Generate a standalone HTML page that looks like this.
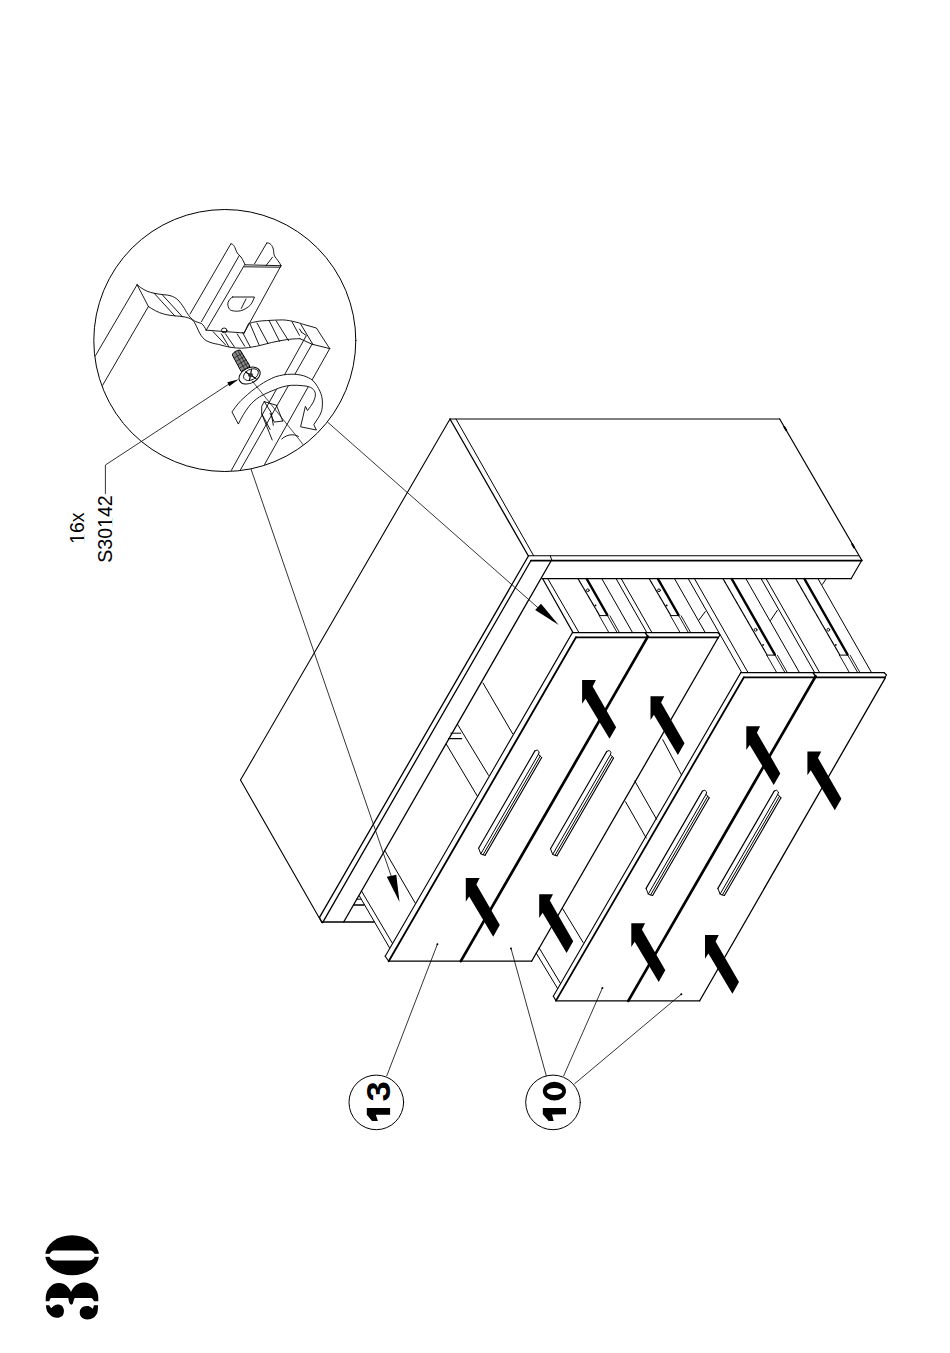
<!DOCTYPE html>
<html><head><meta charset="utf-8"><style>
html,body{margin:0;padding:0;background:#fff;width:950px;height:1353px;overflow:hidden}
svg{position:absolute;left:0;top:0}
.t{font-family:"Liberation Sans",sans-serif}
</style></head><body>
<svg width="950" height="1353" viewBox="0 0 950 1353">
<g stroke="#000" fill="none" stroke-linecap="round" stroke-linejoin="round">
<line x1="450" y1="419" x2="779.7" y2="419" stroke-width="1.2"/>
<line x1="779.7" y1="419" x2="861.8" y2="560.3" stroke-width="1.2"/>
<line x1="450" y1="419" x2="528.4" y2="556" stroke-width="1.3"/>
<line x1="456" y1="419" x2="533.5" y2="555.5" stroke-width="1.0"/>
<line x1="528.4" y1="555.7" x2="858.4" y2="555.7" stroke-width="1.1"/>
<line x1="531" y1="560.6" x2="861.8" y2="560.6" stroke-width="1.8"/>
<polyline points="861.8,560.3 851.1,578.7" stroke-width="1.2" fill="none"/>
<line x1="542" y1="578.7" x2="851.1" y2="578.7" stroke-width="1.3"/>
<line x1="550.3" y1="556" x2="552" y2="560.5" stroke-width="1.0"/>
<line x1="784.3" y1="426.9" x2="786.3" y2="430.3" stroke-width="1.9"/>
<line x1="852.1" y1="544" x2="854.1" y2="547.4" stroke-width="1.9"/>
<line x1="450" y1="419" x2="240.5" y2="780" stroke-width="1.1"/>
<line x1="240.5" y1="780" x2="321.6" y2="922" stroke-width="1.1"/>
<line x1="321.6" y1="922" x2="374.2" y2="922" stroke-width="1.3"/>
<line x1="528.4" y1="556" x2="319.5" y2="917.4" stroke-width="1.3"/>
<line x1="319.5" y1="917.4" x2="322.1" y2="922.6" stroke-width="1.2"/>
<line x1="531" y1="560.5" x2="322.6" y2="922.6" stroke-width="1.3"/>
<line x1="551" y1="561" x2="343.7" y2="922" stroke-width="1.3"/>
<line x1="542.7" y1="578.7" x2="573" y2="632.6" stroke-width="1.2"/>
<line x1="547.8" y1="578.7" x2="579" y2="632.6" stroke-width="1.0"/>
<line x1="586.8" y1="579" x2="607.3199999999999" y2="615" stroke-width="2.5"/>
<line x1="578.1999999999999" y1="579" x2="599.3199999999999" y2="615" stroke-width="1.2" stroke="#000" stroke-dasharray="1.2,0.6"/>
<line x1="599.3199999999999" y1="615.6" x2="607.3199999999999" y2="615.6" stroke-width="1.0"/>
<circle cx="587.8" cy="590.3" r="1.4" stroke-width="0.9"/>
<circle cx="595.5" cy="605.4" r="0.9" fill="#000" stroke="none"/>
<line x1="599.3199999999999" y1="615.8" x2="608.7819999999999" y2="632.4" stroke-width="0.9"/>
<line x1="607.6199999999999" y1="615.8" x2="617.0819999999999" y2="632.4" stroke-width="0.9"/>
<line x1="609.92" y1="615.8" x2="619.382" y2="632.4" stroke-width="0.9"/>
<line x1="658" y1="579" x2="678.52" y2="615" stroke-width="2.5"/>
<line x1="649.4" y1="579" x2="670.52" y2="615" stroke-width="1.2" stroke="#000" stroke-dasharray="1.2,0.6"/>
<line x1="670.52" y1="615.6" x2="678.52" y2="615.6" stroke-width="1.0"/>
<circle cx="659.0" cy="590.3" r="1.4" stroke-width="0.9"/>
<circle cx="666.7" cy="605.4" r="0.9" fill="#000" stroke="none"/>
<line x1="670.52" y1="615.8" x2="679.982" y2="632.4" stroke-width="0.9"/>
<line x1="678.8199999999999" y1="615.8" x2="688.2819999999999" y2="632.4" stroke-width="0.9"/>
<line x1="681.12" y1="615.8" x2="690.582" y2="632.4" stroke-width="0.9"/>
<line x1="731.8" y1="579" x2="774.8349999999999" y2="654.5" stroke-width="2.5"/>
<line x1="723.1999999999999" y1="579" x2="766.8349999999999" y2="654.5" stroke-width="1.2" stroke="#000" stroke-dasharray="1.2,0.6"/>
<line x1="766.8349999999999" y1="655.1" x2="774.8349999999999" y2="655.1" stroke-width="1.0"/>
<circle cx="755.6" cy="629.8" r="1.4" stroke-width="0.9"/>
<circle cx="763.1" cy="644.9" r="0.9" fill="#000" stroke="none"/>
<line x1="766.8349999999999" y1="655.3" x2="776.3539999999999" y2="672" stroke-width="0.9"/>
<line x1="775.1349999999999" y1="655.3" x2="784.6539999999999" y2="672" stroke-width="0.9"/>
<line x1="777.435" y1="655.3" x2="786.954" y2="672" stroke-width="0.9"/>
<line x1="804.5" y1="579" x2="847.535" y2="654.5" stroke-width="2.5"/>
<line x1="795.9" y1="579" x2="839.535" y2="654.5" stroke-width="1.2" stroke="#000" stroke-dasharray="1.2,0.6"/>
<line x1="839.535" y1="655.1" x2="847.535" y2="655.1" stroke-width="1.0"/>
<circle cx="828.3" cy="629.8" r="1.4" stroke-width="0.9"/>
<circle cx="835.8" cy="644.9" r="0.9" fill="#000" stroke="none"/>
<line x1="839.535" y1="655.3" x2="849.054" y2="672" stroke-width="0.9"/>
<line x1="847.8349999999999" y1="655.3" x2="857.3539999999999" y2="672" stroke-width="0.9"/>
<line x1="850.135" y1="655.3" x2="859.654" y2="672" stroke-width="0.9"/>
<line x1="602" y1="579" x2="632.438" y2="632.4" stroke-width="1.0"/>
<line x1="616.3" y1="579" x2="646.7379999999999" y2="632.4" stroke-width="1.0"/>
<line x1="621.4" y1="579" x2="651.838" y2="632.4" stroke-width="1.0"/>
<line x1="674.7" y1="579" x2="705.138" y2="632.4" stroke-width="1.0"/>
<line x1="688.4" y1="579" x2="741.41" y2="672" stroke-width="1.0"/>
<line x1="694.7" y1="579" x2="747.71" y2="672" stroke-width="1.0"/>
<line x1="746.1" y1="579" x2="799.11" y2="672" stroke-width="1.0"/>
<line x1="761.3" y1="579" x2="814.31" y2="672" stroke-width="1.0"/>
<line x1="766.3" y1="579" x2="819.31" y2="672" stroke-width="1.0"/>
<line x1="818.2" y1="579" x2="871.21" y2="672" stroke-width="1.0"/>
<line x1="770.5" y1="620.5" x2="777.3" y2="610.4" stroke-width="1.0"/>
<line x1="699" y1="620" x2="705.3" y2="611.6" stroke-width="1.0"/>
<line x1="822.5" y1="584.3" x2="826.3" y2="578.6" stroke-width="1.0"/>
<line x1="572.4" y1="632.6" x2="718" y2="632.6" stroke-width="1.1"/>
<line x1="576" y1="637.3" x2="718" y2="637.3" stroke-width="1.8"/>
<polyline points="718,632.6 720,635 718,638" stroke-width="1.2" fill="none"/>
<line x1="572.4" y1="632.6" x2="385.2" y2="956.2" stroke-width="1.1"/>
<line x1="576" y1="637.3" x2="388.7" y2="961.2" stroke-width="1.8"/>
<polyline points="385.2,956.2 388.7,961.2" stroke-width="1.1" fill="none"/>
<line x1="388.7" y1="961.2" x2="531.6" y2="961.2" stroke-width="1.3"/>
<line x1="647.8" y1="636.6" x2="460.8" y2="961.2" stroke-width="2.7"/>
<line x1="645.2" y1="632.6" x2="647.8" y2="636.6" stroke-width="1.5"/>
<line x1="718" y1="638" x2="531.6" y2="961.2" stroke-width="1.3"/>
<line x1="740.8" y1="672.6" x2="884.2" y2="672.6" stroke-width="1.1"/>
<line x1="743.9" y1="677.3" x2="884.5" y2="677.3" stroke-width="1.8"/>
<polyline points="884.2,672.6 886.5,675 884.5,678" stroke-width="1.2" fill="none"/>
<line x1="740.8" y1="672.6" x2="553.3" y2="996.2" stroke-width="1.1"/>
<line x1="743.9" y1="677.3" x2="556" y2="1000.6" stroke-width="1.8"/>
<polyline points="553.3,996.2 556,1000.6" stroke-width="1.1" fill="none"/>
<line x1="556" y1="1000.8" x2="699.7" y2="1000.8" stroke-width="1.3"/>
<line x1="815.6" y1="676.3" x2="628.3" y2="1000.8" stroke-width="2.7"/>
<line x1="813" y1="672.6" x2="815.6" y2="676.3" stroke-width="1.5"/>
<line x1="885.3" y1="677.9" x2="699.7" y2="1000.8" stroke-width="1.3"/>
<line x1="483" y1="683" x2="512.6" y2="733.7" stroke-width="1.0"/>
<line x1="457.5" y1="724.3" x2="488.5" y2="775.3" stroke-width="1.0"/>
<line x1="446.4" y1="744.3" x2="477.5" y2="796.4" stroke-width="1.0"/>
<line x1="384.7" y1="850.5" x2="415.3" y2="903.2" stroke-width="1.0"/>
<line x1="361.5" y1="891" x2="392.5" y2="943.4" stroke-width="1.0"/>
<line x1="359.3" y1="895.8" x2="389.5" y2="947.8" stroke-width="1.0"/>
<line x1="450.8" y1="733.2" x2="460.8" y2="733.2" stroke-width="1.0"/>
<line x1="448.6" y1="738.7" x2="461.5" y2="738.7" stroke-width="1.3"/>
<line x1="356.4" y1="899.2" x2="360.8" y2="899.2" stroke-width="1.0"/>
<line x1="353.8" y1="905" x2="364.1" y2="905" stroke-width="1.3"/>
<line x1="662.8" y1="739.7" x2="681.4" y2="774.8" stroke-width="1.0"/>
<line x1="634.8" y1="781" x2="656.6" y2="819.3" stroke-width="1.0"/>
<line x1="625.5" y1="801.7" x2="646.2" y2="838" stroke-width="1.0"/>
<line x1="562.4" y1="908.3" x2="583.1" y2="942.4" stroke-width="1.0"/>
<line x1="536.3" y1="953.2" x2="557.7" y2="988.7" stroke-width="1.0"/>
<line x1="539.2" y1="948" x2="560.5" y2="983.5" stroke-width="1.0"/>
<line x1="534.9" y1="750.9" x2="478.6" y2="848.2" stroke-width="1.15"/>
<line x1="538.49" y1="754.2" x2="480.8" y2="853.9" stroke-width="1.0"/>
<line x1="540.19" y1="756.1" x2="483.08" y2="854.8" stroke-width="1.0"/>
<line x1="541.68" y1="757.5" x2="485.09" y2="855.3" stroke-width="1.15"/>
<polyline points="534.9,750.9 537.3,750.0 539.2,751.8 538.49,754.2 540.19,756.1 541.68,757.5" stroke-width="1.0" fill="none"/>
<polyline points="478.6,848.2 480.8,853.9 483.08,854.8 485.09,855.3" stroke-width="1.0" fill="none"/>
<line x1="606.8" y1="751.4" x2="550.5" y2="848.7" stroke-width="1.15"/>
<line x1="610.39" y1="754.7" x2="552.7" y2="854.4" stroke-width="1.0"/>
<line x1="612.09" y1="756.6" x2="554.98" y2="855.3" stroke-width="1.0"/>
<line x1="613.58" y1="758.0" x2="556.99" y2="855.8" stroke-width="1.15"/>
<polyline points="606.8,751.4 609.2,750.5 611.1,752.3 610.39,754.7 612.09,756.6 613.58,758.0" stroke-width="1.0" fill="none"/>
<polyline points="550.5,848.7 552.7,854.4 554.98,855.3 556.99,855.8" stroke-width="1.0" fill="none"/>
<line x1="702.4" y1="791.1" x2="646.1" y2="888.4" stroke-width="1.15"/>
<line x1="705.99" y1="794.4" x2="648.3" y2="894.1" stroke-width="1.0"/>
<line x1="707.69" y1="796.3" x2="650.58" y2="895.0" stroke-width="1.0"/>
<line x1="709.18" y1="797.7" x2="652.59" y2="895.5" stroke-width="1.15"/>
<polyline points="702.4,791.1 704.8,790.2 706.7,792.0 705.99,794.4 707.69,796.3 709.18,797.7" stroke-width="1.0" fill="none"/>
<polyline points="646.1,888.4 648.3,894.1 650.58,895.0 652.59,895.5" stroke-width="1.0" fill="none"/>
<line x1="774.2" y1="791.1" x2="717.9" y2="888.4" stroke-width="1.15"/>
<line x1="777.79" y1="794.4" x2="720.1" y2="894.1" stroke-width="1.0"/>
<line x1="779.49" y1="796.3" x2="722.38" y2="895.0" stroke-width="1.0"/>
<line x1="780.98" y1="797.7" x2="724.39" y2="895.5" stroke-width="1.15"/>
<polyline points="774.2,791.1 776.6,790.2 778.5,792.0 777.79,794.4 779.49,796.3 780.98,797.7" stroke-width="1.0" fill="none"/>
<polyline points="717.9,888.4 720.1,894.1 722.38,895.0 724.39,895.5" stroke-width="1.0" fill="none"/>
<polygon points="582.1,680.1 595.9,680.1 592.7,686.5 616.1,727.2 609.5,738.8 585.5,698.7 582.1,703.8" fill="#000" stroke="none"/>
<polygon points="650.5,696.2 664.3,696.2 661.1,702.6 684.5,743.3 677.9,754.9 653.9,714.8 650.5,719.9" fill="#000" stroke="none"/>
<polygon points="746.3,726.3 760.1,726.3 756.9,732.7 780.3,773.4 773.7,785.0 749.7,744.9 746.3,750.0" fill="#000" stroke="none"/>
<polygon points="807.4,751.6 821.2,751.6 818.0,758.0 841.4,798.7 834.8,810.3 810.8,770.2 807.4,775.3" fill="#000" stroke="none"/>
<polygon points="465.8,878 479.6,878 476.4,884.4 499.8,925.1 493.2,936.7 469.2,896.6 465.8,901.7" fill="#000" stroke="none"/>
<polygon points="539.2,894.2 553.0,894.2 549.8,900.6 573.2,941.3 566.6,952.9 542.6,912.8 539.2,917.9" fill="#000" stroke="none"/>
<polygon points="631.3,923.2 645.1,923.2 641.9,929.6 665.3,970.3 658.7,981.9 634.7,941.8 631.3,946.9" fill="#000" stroke="none"/>
<polygon points="705,935 718.8,935 715.6,941.4 739,982.1 732.4,993.7 708.4,953.6 705,958.7" fill="#000" stroke="none"/>
<line x1="328" y1="422.5" x2="553" y2="621" stroke-width="0.8"/>
<polygon points="535.2,610 541,603.7 558.7,625" fill="#000" stroke="none"/>
<line x1="251" y1="469" x2="396" y2="890" stroke-width="0.8"/>
<polygon points="386.8,876.8 396.3,874.7 399.5,902" fill="#000" stroke="none"/>
<line x1="437.4" y1="944.2" x2="386.8" y2="1075.8" stroke-width="0.8"/>
<line x1="511" y1="948.4" x2="546.3" y2="1075.8" stroke-width="0.8"/>
<line x1="602.4" y1="988" x2="563.7" y2="1075.8" stroke-width="0.8"/>
<line x1="681.3" y1="994.2" x2="574.7" y2="1083.7" stroke-width="0.8"/>
<circle cx="437.4" cy="944.2" r="1" fill="#000" stroke="none"/>
<circle cx="511" cy="948.4" r="1" fill="#000" stroke="none"/>
<circle cx="602.4" cy="988" r="1" fill="#000" stroke="none"/>
<circle cx="681.3" cy="994.2" r="1" fill="#000" stroke="none"/>
<circle cx="376.3" cy="1102.4" r="27.3" stroke-width="1"/>
<circle cx="553" cy="1102.4" r="27.3" stroke-width="1"/>
<circle cx="224.8" cy="340.5" r="131" stroke-width="1"/>
<polyline points="229,384 105.4,465 105.4,493.5" stroke-width="0.8" fill="none"/>
<polygon points="238.8,379.2 227.3,382.3 229.3,386.2" fill="#000" stroke="none"/>
<clipPath id="mc"><circle cx="224.8" cy="340.5" r="130.5"/></clipPath>
<g clip-path="url(#mc)">
<path d="M137.1,284.7 L80,382" stroke-width="0.9" fill="none"/>
<path d="M148.4,306.5 L90,407" stroke-width="0.9" fill="none"/>
<path d="M137.1,284.7 L148.4,306.5" stroke-width="0.9" fill="none"/>
<path d="M137.1,284.7 C142,289 146,291 150.3,292.3 C156,294 162,294.5 167.4,295.1 C171,295.6 174,296.8 176.8,298.9 C180,301.5 182,305 184.4,308.4 C186,311.5 187.5,314 189.2,316 C191,318.5 193.5,320.5 195.8,321.6 C198,322.6 200,322.8 201.5,323.5 C203.5,325 205,327.5 206.2,330.2" stroke-width="0.9" fill="none"/>
<path d="M148.4,306.5 C153,309.5 158,312.5 163.6,314 C168,315.2 172,315.6 176.8,316 C181,316.4 185,316.8 188.2,317.8 C191,318.8 192.5,320 193.9,321.6 C196,324.5 197.5,329 199.6,333 C201.5,336.5 203.5,339 206.2,340.6 C210,342.7 214,343.6 218.5,344.4 C222,345.2 226,346.6 229.9,347.2 C234,347.8 237.5,348.2 241.3,348.2 C246,348.1 251,347.2 256.4,346.3 C261.5,345.4 266.5,343.5 271.6,342.5 C276.5,341.5 281.5,340.3 286.7,339.6 C291,339 295,338.8 300,338.7" stroke-width="0.9" fill="none"/>
<path d="M154.1,293.2 L174.9,316" stroke-width="0.9" fill="none"/>
<path d="M162.6,295.1 L182.5,316.9" stroke-width="0.9" fill="none"/>
<path d="M230.8,243.9 L190.1,314" stroke-width="0.9" fill="none"/>
<path d="M239.4,255.3 L201.5,321.6" stroke-width="0.9" fill="none"/>
<path d="M230.8,243.9 C232.5,243.5 234,245 235.5,249 C236.5,252 238,254.5 239.4,255.3 C241.5,257 243.5,261 245,264.8" stroke-width="0.9" fill="none"/>
<path d="M245,264.8 L281,265.7 M244.1,266.8 L280.3,267.2" stroke-width="0.9" fill="none"/>
<path d="M281,265.7 L244.1,333" stroke-width="0.9" fill="none"/>
<path d="M244.1,265.7 L206.2,330.2" stroke-width="0.9" fill="none"/>
<path d="M206.2,330.2 L244.1,333" stroke-width="0.9" fill="none"/>
<path d="M266.8,243 L254.5,263.8" stroke-width="0.9" fill="none"/>
<path d="M266.8,243 C269,242.5 271.5,244 273,248 C274,251 273.5,254 274.5,256 C276.5,259 279.5,262 281,265.7" stroke-width="0.9" fill="none"/>
<path d="M272.5,257.2 L265.9,265.7" stroke-width="0.9" fill="none"/>
<path d="M232.7,297 L254.5,297 C253,301 251.5,304.5 248.8,306.5 C245,309.5 241,311.2 237.5,311.2 C233,311.2 229.8,310.5 229,308.4 C227.8,306 227.6,304.5 228,302.7 C228.6,300.5 230.5,298 232.7,297 Z" stroke-width="0.9" fill="none"/>
<path d="M246,298.9 L241.3,308.4" stroke-width="0.9" fill="none"/>
<ellipse cx="224.2" cy="330.4" rx="2.8" ry="2.4" stroke-width="0.9"/>
<path d="M221.4,333.9 L229,346.9 M225.5,333.9 L234.4,346.9" stroke-width="0.9" fill="none"/>
<path d="M244.1,333 L248.6,323.6 C254,321.8 260,320.8 266.3,320.6 C272,320.3 277,319.9 282.5,319.9 C287,320 291.5,321 295.8,322.1 C299,322.8 301,323.5 303.2,324.3 C308,325.6 312,326.8 316.4,328 L329.7,348.6" stroke-width="0.9" fill="none"/>
<path d="M300,338.7 L312,344.2 L329.7,348.6" stroke-width="0.9" fill="none"/>
<path d="M301.7,332.4 L299.5,329 M301.7,332.4 L306.1,335.4" stroke-width="0.9" fill="none"/>
<path d="M213.2,331.8 L225.5,344.8" stroke-width="0.9" fill="none"/>
<path d="M237.2,333.9 L244.7,346.2" stroke-width="0.9" fill="none"/>
<path d="M242.6,332.5 L250.2,346.9" stroke-width="0.9" fill="none"/>
<path d="M250.2,324.3 L259,344.8" stroke-width="0.9" fill="none"/>
<path d="M257,323 L268,343.5" stroke-width="0.9" fill="none"/>
<path d="M269.3,320.9 L279.6,341.4" stroke-width="0.9" fill="none"/>
<path d="M276.2,320.9 L288.5,340.7" stroke-width="0.9" fill="none"/>
<path d="M291.9,321.6 L299.4,335.3" stroke-width="0.9" fill="none"/>
<path d="M300.8,324.3 L313.1,344.8" stroke-width="0.9" fill="none"/>
<path d="M306.1,336 L231,471" stroke-width="0.9" fill="none"/>
<path d="M312,344.2 L239.8,471" stroke-width="0.9" fill="none"/>
<path d="M329.7,348.6 L263.4,466.5" stroke-width="0.9" fill="none"/>
<path d="M232.4,354.7 C232.5,352.5 237,350 240.2,350.1 L250,366.3 L241.5,371.3 Z" stroke-width="1.0" fill="#888"/>
<path d="M234.2,358.0 L242.2,353.3" stroke-width="0.6" fill="none"/>
<path d="M236.0,361.3 L244.1,356.6" stroke-width="0.6" fill="none"/>
<path d="M237.9,364.7 L246.1,359.8" stroke-width="0.6" fill="none"/>
<path d="M239.7,368.0 L248.0,363.1" stroke-width="0.6" fill="none"/>
<path d="M235.5,352.5 L244.5,369 M238,351 L247.5,367.5" stroke-width="0.6" fill="none"/>
<ellipse cx="249.6" cy="375.6" rx="11.2" ry="7.6" transform="rotate(-27 249.6 375.6)" stroke-width="1.0" fill="#fff"/>
<ellipse cx="251" cy="374.6" rx="8" ry="5.2" transform="rotate(-28 251 374.6)" stroke-width="0.8" fill="none"/>
<path d="M245.5,372 L256,378.5 M251.5,369.5 L249.5,380.5" stroke-width="1.2" fill="none"/>
<ellipse cx="250.5" cy="375" rx="2.6" ry="2" fill="#333" stroke="none"/>
<path d="M232.2,411.6 C236,406 240,401 243.8,397.9 C249,393 254,389 259.6,385.3 C265,381.5 270,379 275.4,376.8 C281,375 286,374.3 291.2,374.2 C296,374.2 300,374.7 303.8,375.8 C307,377 310,378.3 312.2,380 C315,382.5 317,385.5 318.5,388.4 C320.5,392 321.8,395.5 322.2,399 C322.6,403 322.5,407 321.7,410.5 C320.7,414 319.2,416.5 317.5,419 L313.8,424.7 L316.4,430 L300.6,426.8 L305.4,406.3 L307.5,410.5 C309.5,408 311.8,405 313.3,402.1 C314.6,399 315.6,396.5 315.4,393.7 C315,391.3 313.8,389.7 312.2,388.4 C309.8,386.8 307,386 303.8,385.8 C299.5,385.3 295,385.1 291.2,385.3 C285,385.9 280,387.5 275.4,389.5 C269.5,391.7 264.5,394 259.6,396.8 C255.5,399.5 252,402.5 249,406.3 C245,411.5 241.5,417.5 238.5,423.7 Z" stroke-width="0.9" fill="#fff"/>
<path d="M261.7,413.7 L272.2,440" stroke-width="0.9" fill="none"/>
<path d="M276.4,405.3 L282.7,421" stroke-width="0.9" fill="none"/>
<path d="M264.3,401.6 L261.7,406.3 L261.7,413.7 L270.1,429.5 M264.3,401.6 L271.2,412.6 L273.3,425.3 M270.1,413.2 L274.3,422.1 L282.7,421 M264.3,401.6 L276.4,405.3" stroke-width="0.9" fill="none"/>
<path d="M281.7,439 C285,436 289,434.5 293,434.8 C295,435 297,435.5 298.5,436.5" stroke-width="0.9" fill="none"/>
<path d="M252.2,381 L299.6,440 L304,446" stroke-width="0.7" fill="none"/>
</g>
</g>

<g fill="#000" stroke="none">
<ellipse cx="72.1" cy="1255.3" rx="26.8" ry="20"/>
<rect x="49.5" y="1250.5" width="45.2" height="10" rx="5" fill="#fff"/>
<rect x="44" y="1253.8" width="8" height="3" fill="#fff"/>
<rect x="93" y="1253.8" width="8" height="3" fill="#fff"/>
<path d="M45.7,1301.3 L45.7,1298 A13.2,15 0 0 1 72.1,1298 L50.8,1298 C50,1299 49.5,1300 49.4,1301.3 Z"/>
<path d="M69.9,1298 A14.2,15.6 0 0 1 98.3,1298 L98.3,1301.3 L93.9,1301.3 C93.2,1299.6 92.4,1298.3 91.2,1298 Z"/>
<path d="M68.2,1296 L75.2,1296 L75,1297.6 C74,1299 73.5,1301 73,1303.3 C72.5,1304.5 71.5,1304.8 71,1304.6 C70,1304.2 69.3,1303 69,1302 L68.3,1298 Z"/>
<path d="M46,1305.3 L49.4,1305.3 C50,1307 50.8,1308 51.5,1308 C52.5,1307 53.3,1306 54.2,1305.7 C56,1304.7 57.5,1304.5 58.9,1304.6 C61,1305 62.3,1306 62.9,1307.3 C63.8,1309 64,1310 63.9,1311.4 C63.7,1313.5 63.2,1315 62.2,1316.1 C60.5,1317.5 58.5,1318 56.8,1317.8 C54,1317.5 52.5,1316.8 50.8,1315.4 C48.5,1313.5 47.3,1312 46.7,1310 C46.2,1308.5 46,1307 46,1305.3 Z"/>
<path d="M98,1305.3 L93.9,1305.3 C93.5,1307 93.2,1308.2 92.6,1308.7 C91,1307.5 90,1306.5 88.5,1306 C86.5,1305.7 84.5,1306 83.1,1306.7 C81,1308 80,1309.5 79.8,1311.4 C79.5,1313.5 80,1315.5 81.1,1316.8 C82.5,1318.5 85,1319.5 87.2,1319.5 C90,1319.5 92,1318.8 93.9,1317.5 C95.5,1316.2 96.6,1314.5 97.3,1312.7 C97.9,1310.5 98,1308 98,1305.3 Z"/>
</g>
<g class="t" fill="#000">
<path d="M366.8,1108.1 L390.1,1108.1 L390.1,1114.7 L375.8,1114.7 L377.9,1121 L372,1121 L366.8,1114.7 Z"/>
<text transform="translate(390.1,1101.5) rotate(-90) scale(1.125,1)" font-size="32.5" font-weight="bold" font-family="Liberation Sans">3</text>
<path d="M542.8,1108.1 L566,1108.1 L566,1114.3 L552,1114.5 L553.7,1121 L548.7,1121 L542.8,1114.3 Z"/>
<path fill-rule="evenodd" d="M542.8,1091.1 A11.6,9.3 0 1 0 566,1091.1 A11.6,9.3 0 1 0 542.8,1091.1 Z M546.8,1091.5 A7.7,3.4 0 1 0 562.2,1091.5 A7.7,3.4 0 1 0 546.8,1091.5 Z"/>
<text transform="translate(83.6,544) rotate(-90)" font-size="19.6" font-family="Liberation Sans">16x</text>
<text transform="translate(112.4,562.8) rotate(-90)" font-size="19.6" font-family="Liberation Sans">S30142</text>
</g>
<g fill="#fff" stroke="none">
<rect x="109.7" y="517.6" width="2.6" height="3.3"/>
<rect x="109.7" y="523.0" width="2.6" height="4.4"/>
<rect x="81.7" y="533.6" width="2.6" height="3.3"/>
<rect x="81.7" y="539.0" width="2.6" height="4.4"/>
</g>
</svg>
</body></html>
